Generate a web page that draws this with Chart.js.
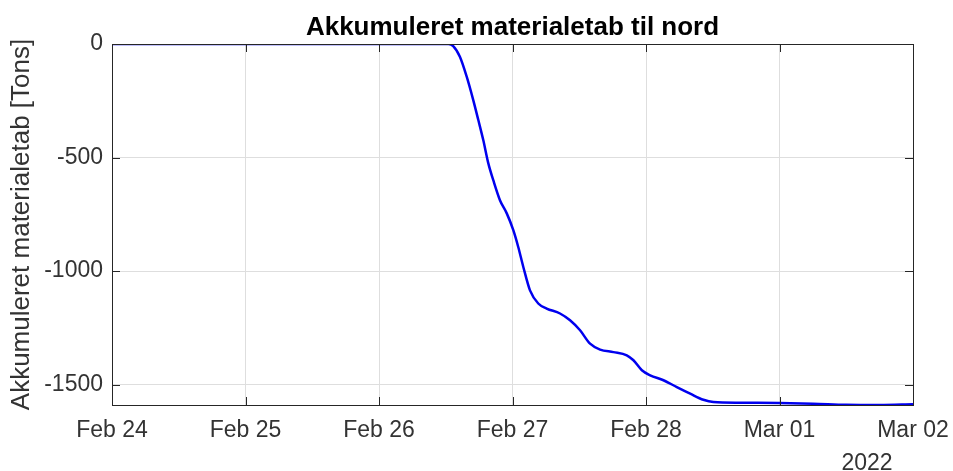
<!DOCTYPE html>
<html lang="da">
<head>
<meta charset="UTF-8">
<title>Akkumuleret materialetab til nord</title>
<script src="https://cdn.jsdelivr.net/npm/chart.js@4.4.1/dist/chart.umd.min.js"></script>
<style>
  html, body { margin: 0; padding: 0; background: #fff; }
  #wrap { width: 953px; height: 471px; position: relative; }
</style>
</head>
<body>
<div id="wrap"><canvas id="chart"></canvas></div>
<script>
// x = days since Feb 24 2022 00:00
const dayLabels = ['Feb 24', 'Feb 25', 'Feb 26', 'Feb 27', 'Feb 28', 'Mar 01', 'Mar 02'];
const xTicks = [0, 1, 2, 3, 4, 5, 6];
const yTicks = [0, -500, -1000, -1500];
const yearLabel = '2022';

const days = [0, 0.5, 1, 1.5, 2, 2.4, 2.52, 2.556, 2.606, 2.657, 2.706, 2.744, 2.781, 2.819,
  2.856, 2.906, 2.957, 3.006, 3.043, 3.081, 3.131, 3.193, 3.256, 3.356, 3.431, 3.506, 3.581,
  3.656, 3.756, 3.856, 3.906, 3.969, 4.031, 4.131, 4.231, 4.331, 4.43, 4.505, 4.705,
  5.0, 5.25, 5.5, 5.75, 6.0];
const tons = [0, 0, 0, 0, 0, 0, 0, -9, -56, -144, -247, -335, -423, -526,
  -600, -688, -746, -820, -894, -982, -1085, -1143, -1165, -1187, -1217, -1261, -1320,
  -1346, -1357, -1371, -1393, -1437, -1459, -1481, -1511, -1540, -1567, -1577, -1580,
  -1581, -1584, -1589, -1590, -1587];

const FONT = "'Liberation Sans', Arial, Helvetica, sans-serif";
Chart.defaults.font.family = FONT;

// box, inward ticks, title and year label (matlab style)
const matlabAxes = {
  id: 'matlabAxes',
  afterDraw(chart) {
    const { ctx, chartArea: a, scales } = chart;
    const tl = 8;
    ctx.save();
    ctx.strokeStyle = '#262626';
    ctx.lineWidth = 1;
    ctx.beginPath();
    xTicks.forEach(v => {
      const px = Math.round(scales.x.getPixelForValue(v)) + 0.5;
      ctx.moveTo(px, a.bottom); ctx.lineTo(px, a.bottom - tl);
      ctx.moveTo(px, a.top); ctx.lineTo(px, a.top + tl);
    });
    yTicks.forEach(v => {
      const py = Math.round(scales.y.getPixelForValue(v)) + 0.5;
      ctx.moveTo(a.left, py); ctx.lineTo(a.left + tl, py);
      ctx.moveTo(a.right, py); ctx.lineTo(a.right - tl, py);
    });
    ctx.stroke();
    ctx.strokeRect(Math.round(a.left) + 0.5, Math.round(a.top) + 0.5,
      Math.round(a.right - a.left), Math.round(a.bottom - a.top));

    ctx.fillStyle = '#000';
    ctx.font = 'bold 26px ' + FONT;
    ctx.textAlign = 'center';
    ctx.textBaseline = 'alphabetic';
    ctx.fillText('Akkumuleret materialetab til nord', (a.left + a.right) / 2, 35);

    ctx.fillStyle = '#333';
    ctx.font = '23px ' + FONT;
    ctx.fillText(yearLabel, a.right - 46, 470);
    ctx.restore();
  }
};

new Chart(document.getElementById('chart'), {
  type: 'line',
  data: {
    datasets: [{
      data: days.map((d, i) => ({ x: d, y: tons[i] })),
      borderColor: '#0000ee',
      borderWidth: 2.5,
      pointRadius: 0,
      cubicInterpolationMode: 'monotone',
      fill: false
    }]
  },
  options: {
    responsive: true,
    maintainAspectRatio: false,
    animation: false,
    layout: { padding: { top: 44, right: 40, left: 0, bottom: 0 } },
    plugins: { legend: { display: false }, tooltip: { enabled: false } },
    scales: {
      x: {
        type: 'linear',
        min: 0,
        max: 6,
        afterBuildTicks: s => { s.ticks = xTicks.map(v => ({ value: v })); },
        afterFit: s => { s.height = 66; s.paddingRight = 0; s.paddingLeft = 0; },
        grid: { color: '#dedede', drawTicks: false },
        border: { display: false },
        ticks: {
          font: { size: 23 }, color: '#333', padding: 12,
          maxRotation: 0, autoSkip: false,
          callback: (v, i) => dayLabels[i]
        }
      },
      y: {
        type: 'linear',
        min: -1590,
        max: 0,
        afterBuildTicks: s => { s.ticks = yTicks.map(v => ({ value: v })); },
        afterFit: s => { s.width = 112; },
        grid: { color: '#dedede', drawTicks: false },
        border: { display: false },
        ticks: {
          font: { size: 23 }, color: '#333', padding: 9,
          callback: v => String(v)
        },
        title: {
          display: true,
          text: 'Akkumuleret materialetab [Tons]',
          font: { size: 26 },
          color: '#333',
          padding: { top: 6, bottom: 0 }
        }
      }
    }
  },
  plugins: [matlabAxes]
});
</script>
</body>
</html>
